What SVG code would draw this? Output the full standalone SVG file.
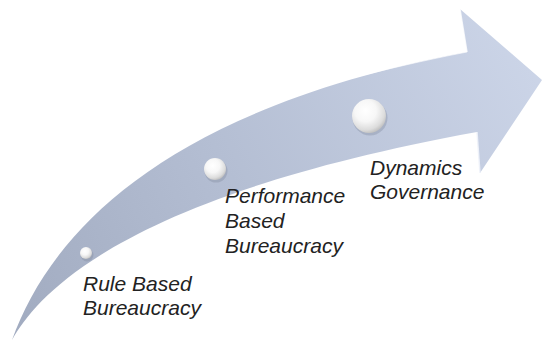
<svg xmlns="http://www.w3.org/2000/svg" width="542" height="342" viewBox="0 0 542 342">
  <defs>
    <linearGradient id="arrowFill" gradientUnits="userSpaceOnUse" x1="12" y1="340" x2="542" y2="60">
      <stop offset="0" stop-color="#a1abc0"/>
      <stop offset="0.45" stop-color="#b4bed3"/>
      <stop offset="1" stop-color="#ccd5e8"/>
    </linearGradient>
    <radialGradient id="pearl" cx="0.4" cy="0.35" r="0.7">
      <stop offset="0" stop-color="#ffffff"/>
      <stop offset="0.45" stop-color="#f7f7f7"/>
      <stop offset="0.8" stop-color="#dcdcdc"/>
      <stop offset="1" stop-color="#b9b9b9"/>
    </radialGradient>
    <style>
      .label { font-family: "Liberation Sans", Arial, sans-serif; font-style: italic; font-size: 21px; fill: #222222; }
      .pearl { fill: url(#pearl); }
      .pearl-shadow { fill: #7d869a; opacity: 0.35; }
    </style>
  </defs>
  <rect width="542" height="342" fill="#ffffff"/>
  <g id="connectors">
    <path id="arrow" d="M12,340 C50,235 160,110 467,52 L460,9 L542,80 L480,173 L477,132 C130,195 40,290 12,340 Z" fill="url(#arrowFill)"/>
    <path d="M460,9 L467,52" stroke="#ffffff" stroke-width="1.5" opacity="0.8" fill="none"/>
    <path d="M467,52 C420,61 370,73 320,86" stroke="#ffffff" stroke-width="1.2" opacity="0.6" fill="none"/>
    <path d="M477,132 L480,173" stroke="#eef2fa" stroke-width="1.5" opacity="0.9" fill="none"/>
  </g>
  <g id="node-rule">
    <circle class="pearl-shadow" cx="87" cy="255" r="6.5"/>
    <circle class="pearl" cx="86" cy="253" r="6"/>
    <text class="label" x="83" y="291">Rule Based</text>
    <text class="label" x="83" y="315">Bureaucracy</text>
  </g>
  <g id="node-performance">
    <circle class="pearl-shadow" cx="216" cy="171" r="11.5"/>
    <circle class="pearl" cx="215" cy="169" r="11"/>
    <text class="label" x="225" y="203">Performance</text>
    <text class="label" x="225" y="228">Based</text>
    <text class="label" x="225" y="253">Bureaucracy</text>
  </g>
  <g id="node-dynamics">
    <circle class="pearl-shadow" cx="370" cy="118" r="17.5"/>
    <circle class="pearl" cx="369" cy="116" r="17"/>
    <text class="label" x="370" y="175">Dynamics</text>
    <text class="label" x="370" y="199">Governance</text>
  </g>
</svg>
